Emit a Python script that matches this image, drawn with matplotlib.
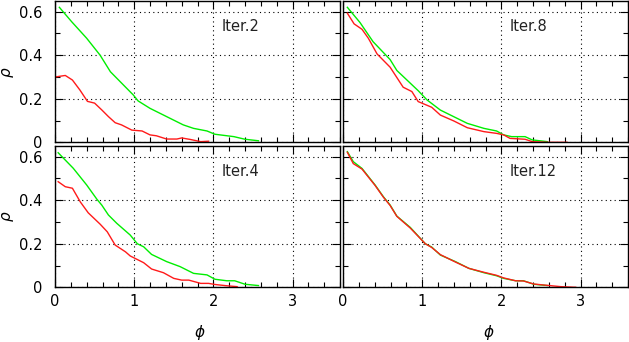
import matplotlib
matplotlib.use("Agg")
import matplotlib.pyplot as plt
from matplotlib.ticker import MultipleLocator

# Iter.2
it2_green_x = [0.055, 0.21, 0.40, 0.57, 0.70, 0.99, 1.05, 1.20, 1.41, 1.62, 1.75, 1.92, 2.02, 2.26, 2.40, 2.57]
it2_green_y = [0.620, 0.554, 0.478, 0.400, 0.324, 0.217, 0.190, 0.156, 0.118, 0.080, 0.064, 0.052, 0.037, 0.026, 0.014, 0.007]
it2_red_x = [0.0, 0.13, 0.22, 0.315, 0.41, 0.50, 0.59, 0.675, 0.76, 0.84, 0.97, 1.10, 1.20, 1.28, 1.41, 1.54, 1.60, 1.71, 1.84, 1.94]
it2_red_y = [0.300, 0.307, 0.286, 0.240, 0.188, 0.180, 0.149, 0.118, 0.090, 0.080, 0.056, 0.052, 0.034, 0.030, 0.015, 0.015, 0.020, 0.013, 0.003, 0.005]

# Iter.8
it8_green_x = [0.055, 0.215, 0.38, 0.595, 0.68, 0.95, 1.06, 1.23, 1.57, 1.78, 1.94, 2.03, 2.13, 2.30, 2.39, 2.58]
it8_green_y = [0.620, 0.550, 0.462, 0.380, 0.330, 0.237, 0.195, 0.148, 0.087, 0.064, 0.052, 0.034, 0.026, 0.026, 0.011, 0.003]
it8_red_x = [0.055, 0.14, 0.24, 0.32, 0.43, 0.595, 0.76, 0.87, 0.95, 1.12, 1.23, 1.40, 1.57, 1.78, 1.94, 2.03, 2.11, 2.30, 2.39, 2.58, 2.83]
it8_red_y = [0.593, 0.544, 0.519, 0.478, 0.406, 0.345, 0.253, 0.233, 0.187, 0.161, 0.125, 0.098, 0.067, 0.049, 0.041, 0.034, 0.018, 0.014, 0.003, 0.0, 0.0]

# Iter.4
it4_green_x = [0.04, 0.23, 0.40, 0.53, 0.59, 0.675, 0.78, 0.95, 1.04, 1.12, 1.22, 1.41, 1.58, 1.75, 1.92, 2.02, 2.17, 2.27, 2.40, 2.57]
it4_green_y = [0.618, 0.547, 0.470, 0.404, 0.378, 0.332, 0.294, 0.240, 0.200, 0.186, 0.151, 0.118, 0.095, 0.064, 0.057, 0.037, 0.030, 0.030, 0.014, 0.008]
it4_red_x = [0.04, 0.13, 0.22, 0.32, 0.42, 0.57, 0.66, 0.76, 0.89, 0.95, 1.12, 1.22, 1.37, 1.50, 1.60, 1.69, 1.84, 1.94, 2.02, 2.17, 2.30]
it4_red_y = [0.485, 0.462, 0.455, 0.392, 0.342, 0.290, 0.255, 0.194, 0.163, 0.144, 0.113, 0.084, 0.067, 0.041, 0.033, 0.033, 0.018, 0.018, 0.013, 0.007, 0.003]

# Iter.12
it12_green_x = [0.055, 0.13, 0.24, 0.405, 0.51, 0.595, 0.68, 0.85, 1.04, 1.12, 1.23, 1.42, 1.59, 1.78, 1.94, 2.03, 2.18, 2.28, 2.41, 2.58]
it12_green_y = [0.623, 0.577, 0.546, 0.470, 0.416, 0.378, 0.327, 0.275, 0.200, 0.185, 0.148, 0.118, 0.087, 0.067, 0.053, 0.041, 0.030, 0.030, 0.014, 0.008]
it12_red_x = [0.055, 0.13, 0.24, 0.405, 0.51, 0.595, 0.68, 0.85, 1.04, 1.12, 1.23, 1.42, 1.59, 1.78, 1.94, 2.03, 2.18, 2.28, 2.41, 2.58, 2.75, 2.94]
it12_red_y = [0.620, 0.568, 0.543, 0.468, 0.414, 0.376, 0.326, 0.272, 0.200, 0.183, 0.150, 0.116, 0.087, 0.069, 0.055, 0.043, 0.030, 0.029, 0.015, 0.009, 0.003, 0.0]

panels = [
    ("Iter.2", it2_green_x, it2_green_y, it2_red_x, it2_red_y),
    ("Iter.8", it8_green_x, it8_green_y, it8_red_x, it8_red_y),
    ("Iter.4", it4_green_x, it4_green_y, it4_red_x, it4_red_y),
    ("Iter.12", it12_green_x, it12_green_y, it12_red_x, it12_red_y),
]

plt.rcParams['font.family'] = ['DejaVu Sans']
plt.rcParams['mathtext.fontset'] = 'dejavusans'
fig = plt.figure(figsize=(6.29, 3.42), dpi=100)

W, H = 629, 342
boxes = [(55, 1, 340, 142.3), (343, 1, 628, 142.3),
         (55, 146, 340, 287.3), (343, 146, 628, 287.3)]

for i, (label, gx, gy, rx, ry) in enumerate(panels):
    x0, y0, x1, y1 = boxes[i]
    ax = fig.add_axes([x0 / W, 1 - y1 / H, (x1 - x0) / W, (y1 - y0) / H])
    ax.plot(gx, gy, color="#00ee00", lw=1.0)
    ax.plot(rx, ry, color="#ff1a1a", lw=1.0)
    ax.set_xlim(0, 3.6)
    ax.set_ylim(0, 0.649)
    ax.xaxis.set_minor_locator(MultipleLocator(0.2))
    ax.yaxis.set_minor_locator(MultipleLocator(0.1))
    ax.set_yticks([0, 0.2, 0.4, 0.6])
    ax.set_yticklabels(["0", "0.2", "0.4", "0.6"])
    ax.set_xticks([0, 1, 2, 3])
    ax.set_xticklabels(["0", "1", "2", "3"])
    ax.tick_params(which="both", direction="in", top=True, right=True,
                   labelsize=10.5, width=0.8, colors="black")
    ax.tick_params(axis="y", pad=9)
    ax.tick_params(axis="x", pad=5)
    ax.tick_params(which="major", length=6)
    ax.tick_params(which="minor", length=3.5)
    ax.grid(True, which="major", color="black", linestyle=(0, (1, 3)), lw=0.8)
    for s in ax.spines.values():
        s.set_linewidth(1.0)
    ax.text(2.1, 0.51, label, fontsize=10.5, color="#222222")
    if i % 2 == 1:
        ax.tick_params(labelleft=False)
    if i < 2:
        ax.tick_params(labelbottom=False)

# axis labels placed in figure pixels
fig.text(8 / W, 1 - 72 / H, r"$\rho$", rotation=90, ha="center", va="center", fontsize=11)
fig.text(8 / W, 1 - 216 / H, r"$\rho$", rotation=90, ha="center", va="center", fontsize=11)
fig.text(200 / W, 1 - 332 / H, r"$\phi$", ha="center", va="center", fontsize=11)
fig.text(489 / W, 1 - 332 / H, r"$\phi$", ha="center", va="center", fontsize=11)

fig.savefig("out.png", dpi=100)
